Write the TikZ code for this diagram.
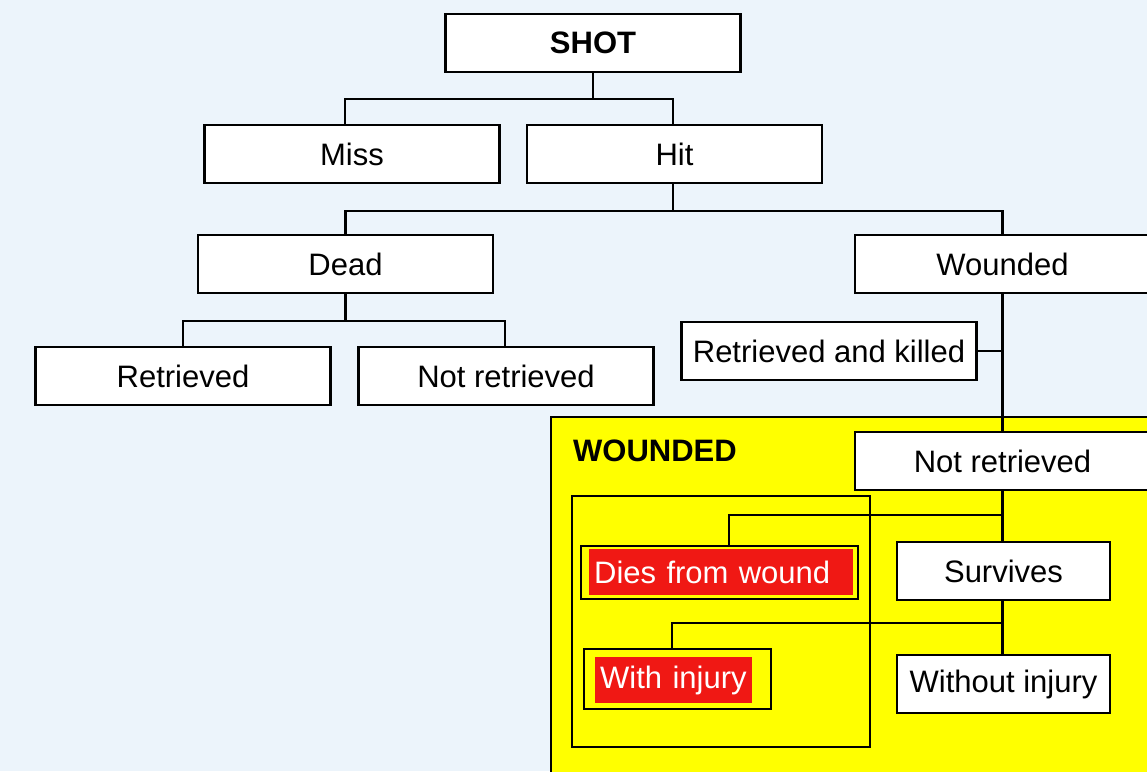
\documentclass[tikz,border=0pt]{standalone}
\usepackage{fontspec}
\setmainfont{Liberation Sans}
\usetikzlibrary{calc}
\definecolor{bgblue}{RGB}{236,244,251}
\definecolor{hiyel}{RGB}{255,255,0}
\definecolor{hired}{RGB}{240,24,20}
\begin{document}
\begin{tikzpicture}[x=1pt,y=-1pt,
  ln/.style={line width=2.2pt},
  box/.style={draw, fill=white, line width=2.2pt, minimum width=295pt, minimum height=58pt, inner sep=0pt, font=\fontsize{31}{36}\selectfont},
  outline/.style={draw, line width=2.2pt, anchor=north west, inner sep=0pt},
  redbox/.style={fill=hired, text=white, anchor=north west, inner ysep=0pt, inner xsep=5pt, align=left, font=\fontsize{31}{36}\selectfont}]
\clip (0,0) rectangle (1147,771);
\fill[bgblue] (0,0) rectangle (1147,771);
% upper tree
\node[box, font=\fontsize{31}{36}\selectfont\bfseries] (shot) at (593,43) {SHOT};
\node[box] (miss) at (352,154) {Miss};
\node[box] (hit) at (674.5,154) {Hit};
\node[box] (dead) at (345.5,264) {Dead};
\node[box] (wounded) at (1002.5,264) {Wounded};
\node[box] (retr) at (183,376) {Retrieved};
\node[box] (notretr) at (506,376) {Not retrieved};
\node[box] (rk) at (829,351) {Retrieved and killed};
% wounded area
\node[outline, fill=hiyel, minimum width=650pt, minimum height=400pt] (area) at (550,416) {};
\node[anchor=west, inner sep=0pt, font=\fontsize{31}{36}\selectfont\bfseries] (wlabel) at (573,451) {WOUNDED};
\node[outline, minimum width=298pt, minimum height=251pt] (inner) at (571,495) {};
\node[box] (nr2) at (1002.5,461) {Not retrieved};
\node[box, minimum width=213pt] (surv) at (1003.5,571) {Survives};
\node[box, minimum width=213pt] (woi) at (1003.5,684) {Without injury};
\node[outline, minimum width=277pt, minimum height=53pt] (diesbox) at (580,545) {};
\node[redbox, text width=254pt, minimum height=46pt] (dies) at (589,549) {Dies from wound};
\node[outline, minimum width=187pt, minimum height=60pt] (injbox) at (583,648) {};
\node[redbox, text width=147pt, minimum height=46pt] (inj) at (595,657) {With injury};
% connectors
\coordinate (j1) at ($(shot.south)+(0,26)$);
\draw[ln] (shot.south) -- (j1);
\draw[ln] (j1) -| ([xshift=-7pt]miss.north);
\draw[ln] (j1) -| ([xshift=-1.5pt]hit.north);
\coordinate (j2) at ($([xshift=-1.5pt]hit.south)+(0,27)$);
\draw[ln] ([xshift=-1.5pt]hit.south) -- (j2);
\draw[ln] (j2) -| (dead.north);
\draw[ln] (j2) -| (wounded.north);
\coordinate (j3) at ($(dead.south)+(0,27)$);
\draw[ln] (dead.south) -- (j3);
\draw[ln] (j3) -| (retr.north);
\draw[ln] (j3) -| ([xshift=-1pt]notretr.north);
\draw[ln] (wounded.south) -- (nr2.north);
\draw[ln] (rk.east) -- (rk.east -| wounded.south);
\coordinate (j4) at ($(nr2.south)+(0,24)$);
\draw[ln] (nr2.south) -- ([xshift=-1pt]surv.north);
\draw[ln] (j4) -| ([xshift=9pt]diesbox.north);
\coordinate (j5) at ($([xshift=-1pt]surv.south)+(0,22)$);
\draw[ln] ([xshift=-1pt]surv.south) -- ([xshift=-1pt]woi.north);
\draw[ln] (j5) -| ([xshift=-6pt]injbox.north);
\end{tikzpicture}
\end{document}
